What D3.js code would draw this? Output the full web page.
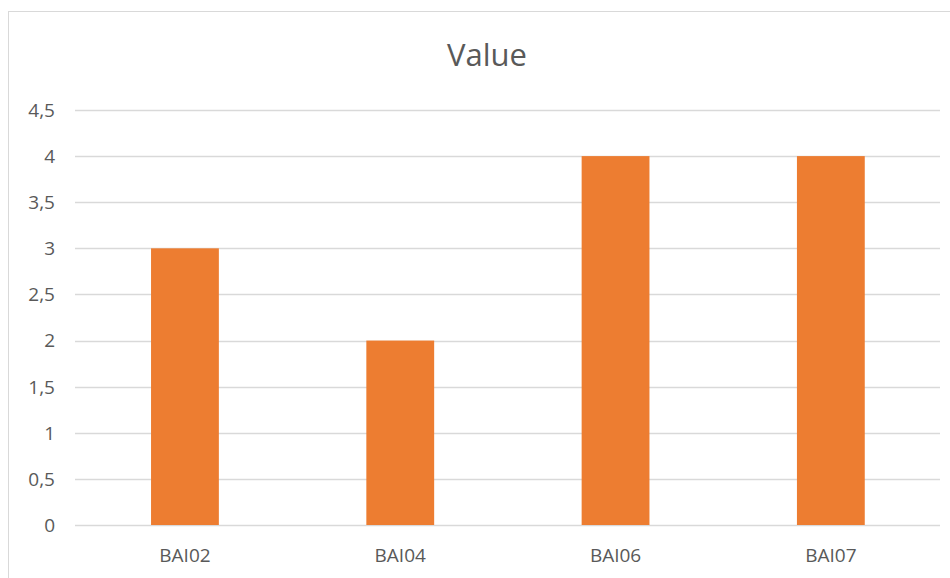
<!DOCTYPE html>
<html><head><meta charset="utf-8">
<script src="https://cdn.jsdelivr.net/npm/d3@7"></script>
<style>body{margin:0;background:#fff;} svg{display:block;}</style>
</head><body>
<script>
const categories = ["BAI02", "BAI04", "BAI06", "BAI07"];
const values = [3, 2, 4, 4];
const yTicks = [0, 0.5, 1, 1.5, 2, 2.5, 3, 3.5, 4, 4.5];
const title = "Value";

(function () {
const W = 950, H = 578;
const svg = d3.select("body").append("svg").attr("width", W).attr("height", H);
svg.append("rect").attr("x", 8.5).attr("y", 11.5).attr("width", 960).attr("height", 600)
  .attr("fill", "#fff").attr("stroke", "#d9d9d9").attr("stroke-width", 1);

const mLeft = 77.3, mRight = 938.5, mTop = 110, mBottom = 525;
const x = d3.scaleBand().domain(categories).range([mLeft, mRight]).paddingInner(0.685).paddingOuter(0.3425);
const y = d3.scaleLinear().domain([0, 4.5]).range([mBottom, mTop]);
const fmt = d => String(d).replace(".", ",");
const font = "'Open Sans', 'Noto Sans', sans-serif";

svg.append("g").selectAll("line").data(yTicks).join("line")
  .attr("x1", 75).attr("x2", 940)
  .attr("y1", d => Math.round(y(d)) + 0.5).attr("y2", d => Math.round(y(d)) + 0.5)
  .attr("stroke", "#d9d9d9").attr("stroke-width", 1.3);

svg.append("g").selectAll("text").data(yTicks).join("text")
  .attr("x", 55).attr("y", d => y(d)).attr("dy", "0.36em")
  .attr("text-anchor", "end").attr("font-family", font).attr("font-size", 19)
  .attr("fill", "#595959").text(fmt);

svg.append("g").selectAll("rect").data(values).join("rect")
  .attr("x", (d, i) => x(categories[i])).attr("width", x.bandwidth())
  .attr("y", d => y(d)).attr("height", d => y(0) - y(d))
  .attr("fill", "#ED7D31");

svg.append("g").selectAll("text").data(categories).join("text")
  .attr("x", d => x(d) + x.bandwidth() / 2).attr("y", 562)
  .attr("text-anchor", "middle").attr("font-family", font).attr("font-size", 19)
  .attr("fill", "#595959").text(d => d);

svg.append("text").attr("x", 487).attr("y", 66).attr("text-anchor", "middle")
  .attr("font-family", font).attr("font-size", 31).attr("fill", "#595959").text(title);
})();
</script>
</body></html>
